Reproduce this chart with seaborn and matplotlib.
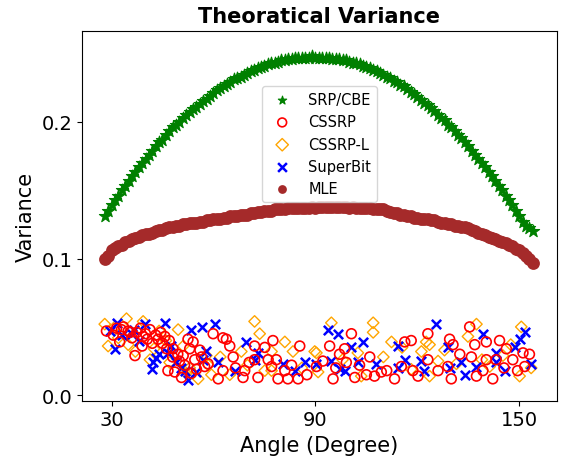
import matplotlib
matplotlib.use('Agg')
import matplotlib.pyplot as plt
import seaborn as sns

# angles for the two smooth curves
angles = list(range(28, 155))

srp_cbe = [0.131, 0.135, 0.139, 0.143, 0.146, 0.150, 0.153, 0.157, 0.160, 0.163,
           0.167, 0.170, 0.173, 0.176, 0.179, 0.182, 0.185, 0.187, 0.190, 0.193,
           0.196, 0.198, 0.200, 0.203, 0.205, 0.207, 0.209, 0.211, 0.213, 0.215,
           0.217, 0.219, 0.221, 0.223, 0.225, 0.226, 0.228, 0.229, 0.231, 0.232,
           0.233, 0.234, 0.236, 0.237, 0.238, 0.239, 0.240, 0.241, 0.242, 0.243,
           0.243, 0.244, 0.245, 0.245, 0.246, 0.246, 0.247, 0.247, 0.247, 0.247,
           0.247, 0.248, 0.247, 0.247, 0.247, 0.247, 0.247, 0.246, 0.246, 0.246,
           0.245, 0.245, 0.244, 0.243, 0.243, 0.242, 0.241, 0.240, 0.239, 0.238,
           0.237, 0.236, 0.234, 0.233, 0.232, 0.230, 0.229, 0.227, 0.226, 0.224,
           0.222, 0.220, 0.218, 0.216, 0.214, 0.212, 0.210, 0.208, 0.205, 0.203,
           0.201, 0.198, 0.196, 0.193, 0.190, 0.188, 0.185, 0.182, 0.179, 0.176,
           0.173, 0.170, 0.167, 0.163, 0.160, 0.157, 0.153, 0.150, 0.146, 0.143,
           0.139, 0.135, 0.131, 0.127, 0.124, 0.122, 0.120]

mle = [0.100, 0.102, 0.106, 0.108, 0.109, 0.110, 0.112, 0.113, 0.114, 0.115,
       0.116, 0.117, 0.118, 0.118, 0.119, 0.120, 0.121, 0.121, 0.122, 0.123,
       0.123, 0.124, 0.124, 0.125, 0.125, 0.126, 0.126, 0.126, 0.127, 0.127,
       0.128, 0.128, 0.129, 0.129, 0.129, 0.130, 0.130, 0.131, 0.131, 0.131,
       0.132, 0.132, 0.132, 0.133, 0.133, 0.134, 0.134, 0.135, 0.135, 0.135,
       0.136, 0.136, 0.136, 0.136, 0.137, 0.137, 0.137, 0.137, 0.137, 0.137,
       0.137, 0.138, 0.137, 0.138, 0.138, 0.138, 0.138, 0.138, 0.138, 0.138,
       0.138, 0.138, 0.137, 0.138, 0.137, 0.137, 0.137, 0.137, 0.137, 0.136,
       0.136, 0.136, 0.136, 0.135, 0.134, 0.133, 0.133, 0.132, 0.132, 0.131,
       0.131, 0.130, 0.130, 0.129, 0.129, 0.129, 0.128, 0.128, 0.127, 0.126,
       0.126, 0.125, 0.125, 0.124, 0.124, 0.123, 0.123, 0.122, 0.121, 0.120,
       0.119, 0.118, 0.117, 0.116, 0.115, 0.114, 0.113, 0.112, 0.111, 0.110,
       0.109, 0.107, 0.106, 0.104, 0.102, 0.100, 0.097]

# noisy estimators
cssrp_ang = [28.5, 32.4, 32.9, 34.9, 36.9, 37.4, 39.3, 41.3, 43.7, 45.7, 46.2, 46.6,
             48.1, 48.6, 50.6, 51.1, 52.5, 54.0, 54.5, 55.0, 57.4, 30.5, 33.5, 36.0,
             38.5, 40.0, 42.0, 44.5, 47.0, 49.5, 51.5, 53.0, 56.0,
             31.5, 35.5, 39.0, 40.5, 43.0, 45.0, 48.0, 50.0, 53.5, 56.5,
             59.9, 62.8, 63.8, 64.8, 65.8, 58.4, 61.4, 62.8, 69.2, 68.7, 72.1, 72.1,
             73.1, 75.1, 76.1, 77.5, 78.5, 79.0, 81.0, 81.9, 84.9, 85.4, 77.1,
             66.5, 70.5, 83.0, 87.5,
             100.6, 94.2, 97.1, 98.6, 92.2, 95.2, 99.1, 101.6, 105.0, 106.0, 107.4,
             109.4, 113.3, 116.3, 118.2, 118.7, 115.3, 120.2, 123.1, 90.3,
             96.0, 103.0, 111.0,
             129.5, 130.5, 135.4, 136.9, 140.3, 144.2, 123.1, 126.1, 129.0, 130.0,
             135.9, 137.4, 139.3, 140.3, 142.2, 143.2, 146.2, 148.1, 151.1, 153.0, 151.6,
             132.5, 145.5, 149.5]
cssrp = [0.047, 0.039, 0.048, 0.047, 0.029, 0.046, 0.043, 0.048, 0.041, 0.043, 0.034, 0.018,
         0.034, 0.017, 0.013, 0.029, 0.041, 0.039, 0.026, 0.019, 0.021, 0.044, 0.050, 0.042,
         0.049, 0.045, 0.038, 0.046, 0.040, 0.030, 0.022, 0.034, 0.033,
         0.049, 0.046, 0.036, 0.041, 0.044, 0.038, 0.028, 0.025, 0.016, 0.028,
         0.045, 0.042, 0.041, 0.036, 0.028, 0.023, 0.012, 0.018, 0.018, 0.013, 0.036, 0.026,
         0.013, 0.035, 0.026, 0.040, 0.026, 0.012, 0.018, 0.012, 0.012, 0.036, 0.021,
         0.020, 0.024, 0.022, 0.015,
         0.045, 0.036, 0.030, 0.034, 0.025, 0.012, 0.024, 0.013, 0.015, 0.028, 0.014,
         0.017, 0.012, 0.039, 0.040, 0.018, 0.021, 0.014, 0.045, 0.021,
         0.020, 0.022, 0.018,
         0.041, 0.037, 0.050, 0.037, 0.039, 0.040, 0.026, 0.018, 0.021, 0.012,
         0.028, 0.014, 0.018, 0.026, 0.012, 0.026, 0.034, 0.026, 0.031, 0.030, 0.021,
         0.030, 0.020, 0.018]

cssrp_l_ang = [28.0, 29.0, 34.4, 34.9, 39.3, 41.3, 49.6, 47.1, 51.1, 55.5, 57.9,
               31.0, 37.0, 44.0, 53.0, 32.0, 42.5, 46.0, 52.0, 58.5,
               72.1, 73.6, 68.2, 81.0, 83.4, 89.8, 77.1, 64.8, 59.4, 77.1, 75.1,
               62.0, 70.0, 86.0,
               94.7, 107.0, 107.0, 90.3, 102.5, 90.8, 112.4, 121.2, 118.2, 103.5, 122.6,
               98.0, 110.0, 115.5,
               137.4, 134.9, 150.6, 123.6, 126.1, 131.5, 123.6, 141.3, 150.1, 153.5, 145.2,
               128.0, 139.0, 147.5]
cssrp_l = [0.052, 0.036, 0.056, 0.037, 0.054, 0.026, 0.048, 0.024, 0.036, 0.012, 0.029,
           0.050, 0.032, 0.047, 0.020, 0.042, 0.034, 0.040, 0.016, 0.022,
           0.054, 0.045, 0.032, 0.039, 0.032, 0.032, 0.018, 0.015, 0.015, 0.032, 0.018,
           0.028, 0.022, 0.020,
           0.053, 0.053, 0.046, 0.031, 0.031, 0.017, 0.039, 0.032, 0.019, 0.014, 0.039,
           0.026, 0.028, 0.035,
           0.052, 0.043, 0.050, 0.037, 0.025, 0.023, 0.014, 0.021, 0.014, 0.020, 0.029,
           0.033, 0.026, 0.037]

superbit_ang = [31.5, 31.0, 35.9, 39.8, 42.2, 45.7, 41.8, 49.1, 53.5, 56.5, 52.5, 56.9, 47.6,
                29.5, 33.0, 38.0, 44.0, 50.5, 55.0, 36.5, 43.0, 46.5, 51.5,
                60.4, 57.9, 61.4, 66.3, 69.7, 72.1, 73.1, 80.5, 83.9, 86.9,
                93.7, 96.6, 104.0, 100.6, 94.7, 97.1, 98.6, 102.5, 107.9, 114.3, 116.3,
                114.3, 121.2, 122.1, 90.3,
                125.6, 139.3, 129.0, 132.9, 133.9, 137.4, 143.1, 143.2, 145.7, 148.6,
                150.1, 151.6, 153.5, 129.5]
superbit = [0.053, 0.034, 0.045, 0.052, 0.024, 0.053, 0.019, 0.024, 0.048, 0.050, 0.011, 0.026, 0.036,
            0.047, 0.044, 0.040, 0.030, 0.020, 0.017, 0.048, 0.027, 0.031, 0.018,
            0.052, 0.032, 0.024, 0.018, 0.039, 0.026, 0.031, 0.023, 0.018, 0.024,
            0.048, 0.045, 0.039, 0.035, 0.025, 0.019, 0.018, 0.024, 0.023, 0.036, 0.026,
            0.020, 0.025, 0.018, 0.023,
            0.052, 0.045, 0.035, 0.024, 0.015, 0.021, 0.031, 0.024, 0.018, 0.035,
            0.041, 0.046, 0.023, 0.020]

sns.set_style("ticks")
plt.rcParams['text.color'] = 'black'
plt.rcParams['axes.labelcolor'] = 'black'
plt.rcParams['xtick.color'] = 'black'
plt.rcParams['ytick.color'] = 'black'
plt.rcParams['axes.edgecolor'] = 'black'

fig, ax = plt.subplots(figsize=(5.63, 4.6), dpi=100)
fig.subplots_adjust(left=0.1456, right=0.9893, top=0.931, bottom=0.1267)

sns.scatterplot(x=angles, y=srp_cbe, ax=ax, marker='*', s=85, color='green',
                edgecolor='green', linewidth=0.8, label='SRP/CBE', zorder=2)
sns.scatterplot(x=cssrp_ang, y=cssrp, ax=ax, marker='o', s=50, facecolor='none',
                edgecolor='red', linewidth=1.2, label='CSSRP', zorder=3)
sns.scatterplot(x=cssrp_l_ang, y=cssrp_l, ax=ax, marker='D', s=34, facecolor='none',
                edgecolor='orange', linewidth=1.0, label='CSSRP-L', zorder=2)
sns.scatterplot(x=superbit_ang, y=superbit, ax=ax, marker='x', s=45, color='blue',
                linewidth=1.8, label='SuperBit', zorder=2.5)
sns.scatterplot(x=angles, y=mle, ax=ax, marker='o', s=85, color='brown',
                linewidth=0, label='MLE', zorder=2)

ax.set_xlim(21.3, 161.1)
ax.set_ylim(-0.004, 0.2666)
ax.set_xticks([30, 90, 150])
ax.set_yticks([0.0, 0.1, 0.2])
ax.tick_params(labelsize=14)
ax.set_xlabel("Angle (Degree)", fontsize=15)
ax.set_ylabel("Variance", fontsize=15)
ax.set_title("Theoratical Variance", fontsize=15, fontweight='bold')

leg = ax.legend(loc='upper center', bbox_to_anchor=(0.5, 0.87), fontsize=10.5)
for h in leg.legend_handles:
    h.set_sizes([40])

plt.savefig("out.png", dpi=100)
